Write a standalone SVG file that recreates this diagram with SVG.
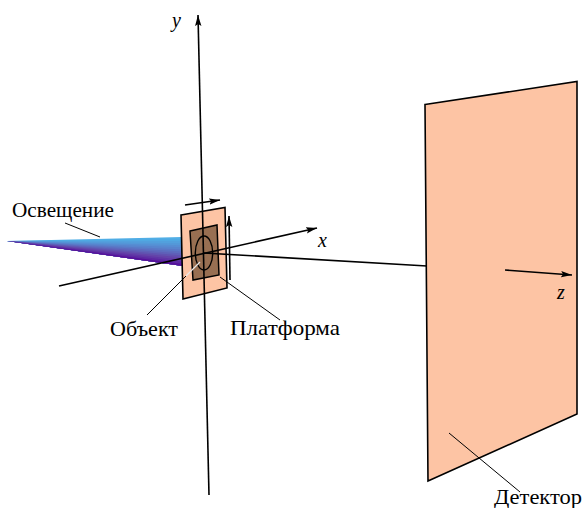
<svg xmlns="http://www.w3.org/2000/svg" width="584" height="508" viewBox="0 0 584 508">
<style>
.plate{fill:#fdc4a4;stroke:#000;stroke-width:1.6}
.inner{fill:#986f52;stroke:#000;stroke-width:1.5}
.ax{fill:none;stroke:#000;stroke-width:1.6}
.ld{fill:none;stroke:#000;stroke-width:1}
.t{font-family:"Liberation Serif","Times New Roman",serif;font-size:21px;fill:#000}
.i{font-style:italic;font-size:20px}
</style>
<defs>
<marker id="a" markerUnits="userSpaceOnUse" markerWidth="12" markerHeight="8" refX="11" refY="4" orient="auto"><path d="M0 0.8L11 4L0 7.2L2 4Z" fill="#000"/></marker>
</defs>
<g id="illumination">
<path d="M7 241L183 237L183 266Z" fill="#50aee6"/>
<path d="M7 241L183 239.1L183 266Z" fill="#50a8e2"/>
<path d="M7 241L183 241.1L183 266Z" fill="#52a0dd"/>
<path d="M7 241L183 243.2L183 266Z" fill="#5498d8"/>
<path d="M7 241L183 245.2L183 266Z" fill="#568ed3"/>
<path d="M7 241L183 247.3L183 266Z" fill="#5884cd"/>
<path d="M7 241L183 249.4L183 266Z" fill="#5a78c6"/>
<path d="M7 241L183 251.4L183 266Z" fill="#5d6cbf"/>
<path d="M7 241L183 253.5L183 266Z" fill="#5f60b8"/>
<path d="M7 241L183 255.6L183 266Z" fill="#6152b0"/>
<path d="M7 241L183 257.6L183 266Z" fill="#6444a9"/>
<path d="M7 241L183 259.7L183 266Z" fill="#6036a6"/>
<path d="M7 241L183 261.8L183 266Z" fill="#5c28a2"/>
<path d="M7 241L183 263.9L183 266Z" fill="#56109a"/>
</g>
<g id="detector"><path class="plate" d="M425 104.5L577 81.5L577 414L428 481Z"/></g>
<g id="platform"><path class="plate" d="M181 215L225 207.5L227 288L183 299Z"/></g>
<g id="object"><path class="inner" d="M190 231L217 225L219 275L193 280Z"/><ellipse cx="204" cy="253" rx="8.7" ry="17" fill="none" stroke="#000" stroke-width="1.4"/></g>
<g id="connectors">
<path class="ax" d="M204 253L427 266"/>
<path class="ax" d="M209 495L198 15" marker-end="url(#a)"/>
<path class="ax" d="M59 286L317 228" marker-end="url(#a)"/>
<path class="ax" d="M505 270L572 275" marker-end="url(#a)"/>
<path class="ax" d="M185 205L220 200" marker-end="url(#a)"/>
<path class="ax" d="M230 280L229 216" marker-end="url(#a)"/>
<path class="ld" d="M65 223L100 237"/>
<path class="ld" d="M147 315L186 276"/>
<path d="M186 276L200 262" fill="none" stroke="#e8e8e8" stroke-width="1.2"/>
<path class="ld" d="M220 277L280 320"/>
<path class="ld" d="M449 433L520 492"/>
</g>
<g id="labels">
<text class="t" x="12" y="217" textLength="102" lengthAdjust="spacingAndGlyphs">Освещение</text>
<text class="t" x="110" y="336" textLength="68" lengthAdjust="spacingAndGlyphs">Объект</text>
<text class="t" x="230" y="335" textLength="110" lengthAdjust="spacingAndGlyphs">Платформа</text>
<text class="t" x="494" y="503.5" textLength="88" lengthAdjust="spacingAndGlyphs">Детектор</text>
<text class="t i" x="172" y="27">y</text>
<text class="t i" x="318" y="247">x</text>
<text class="t i" x="557" y="299">z</text>
</g>
</svg>
